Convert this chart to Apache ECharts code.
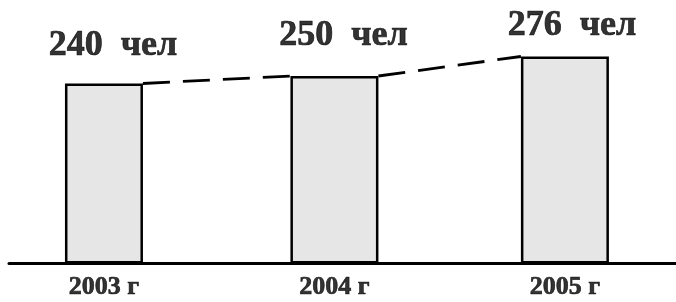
<!DOCTYPE html>
<html>
<head>
<meta charset="utf-8">
<script src="https://cdn.jsdelivr.net/npm/echarts@6/dist/echarts.min.js"></script>
<style>html,body{margin:0;padding:0;background:#fff}#c{width:676px;height:302px}</style>
</head>
<body>
<div id="c"></div>
<script>
// ---- data ----
const categories = ['2003 г', '2004 г', '2005 г'];
const values = [240, 250, 276];
const unit = 'чел';

// ---- styles / layout ----
const barWidths = [78, 88, 88];
const topLabelOffsets = [[9, -38], [9, -40], [7, -31]];
const gridLeft = 9, gridRight = 0, chartW = 676;
const xMin = -0.412, xMax = 2.482;
const pxPerUnit = (chartW - gridLeft - gridRight) / (xMax - xMin);
const font = '"Liberation Serif", "Times New Roman", serif';

const chart = echarts.init(document.getElementById('c'), null, {renderer: 'canvas'});

const xAxes = values.map((v, i) => ({
  type: 'value', min: xMin, max: xMax, gridIndex: 0,
  show: i === 0,
  axisLine: {show: true, lineStyle: {color: '#000', width: 3}},
  axisTick: {show: false}, axisLabel: {show: false}, splitLine: {show: false}
}));

const series = [];
values.forEach((v, i) => {
  series.push({
    type: 'bar', xAxisIndex: i, yAxisIndex: 0,
    barWidth: barWidths[i],
    data: [[i, v]],
    itemStyle: {color: '#e6e6e6', borderColor: '#000', borderWidth: 2.5},
    silent: true, z: 2
  });
});

// dashed connectors from top-right corner of one bar to top-left of the next
for (let i = 0; i < values.length - 1; i++) {
  const hA = barWidths[i] / 2 / pxPerUnit;
  const hB = barWidths[i + 1] / 2 / pxPerUnit;
  series.push({
    type: 'line', xAxisIndex: 0, yAxisIndex: 0,
    data: [[i + hA, values[i]], [i + 1 - hB, values[i + 1]]],
    symbol: 'none', silent: true, z: 3,
    lineStyle: {color: '#000', width: 2.8, type: [27, 13]}
  });
}

const labelBase = {
  show: true, position: 'inside', fontFamily: font, fontWeight: 'bold',
  color: '#000', textBorderColor: '#000', textBorderWidth: 0.7,
  textShadowBlur: 0
};

// value labels above bars
series.push({
  type: 'scatter', xAxisIndex: 0, yAxisIndex: 0,
  symbolSize: 0, silent: true, z: 4,
  itemStyle: {color: '#000'},
  data: values.map((v, i) => ({
    value: [i, v],
    label: {offset: topLabelOffsets[i]}
  })),
  label: Object.assign({}, labelBase, {
    formatter: p => values[p.dataIndex] + '  ' + unit,
    fontSize: 36
  })
});

// category labels under baseline
series.push({
  type: 'scatter', xAxisIndex: 0, yAxisIndex: 0,
  symbolSize: 0, silent: true, z: 4,
  itemStyle: {color: '#000'},
  data: categories.map((c, i) => [i, 0]),
  label: Object.assign({}, labelBase, {
    offset: [0, 24],
    formatter: p => categories[p.dataIndex],
    fontSize: 26
  })
});

chart.setOption({
  animation: false,
  backgroundColor: '#fff',
  grid: {left: gridLeft, right: gridRight, top: 23.5, bottom: 38.5},
  xAxis: xAxes,
  yAxis: {type: 'value', min: 0, max: 320, show: false},
  series: series
});
</script>
</body>
</html>
